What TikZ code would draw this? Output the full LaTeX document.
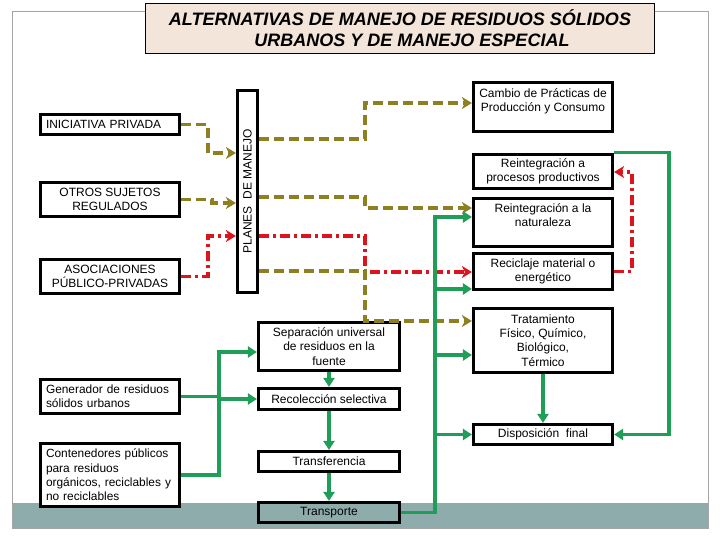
\documentclass[tikz,border=0pt]{standalone}
\usepackage{fontspec}
\setmainfont{Liberation Sans}
\usetikzlibrary{arrows.meta,calc}
\definecolor{oliv}{RGB}{140,128,32}
\definecolor{redl}{RGB}{220,20,30}
\definecolor{grn}{RGB}{30,158,87}
\definecolor{bandc}{RGB}{143,172,172}
\definecolor{titfill}{RGB}{243,229,217}
\definecolor{framec}{RGB}{165,165,165}
\begin{document}
\begin{tikzpicture}[x=1pt,y=-1pt,
 box/.style={draw=black, line width=3.2pt, fill=white, inner sep=0pt, align=center,
   font=\fontsize{12}{14.3}\selectfont, text=black},
 lbox/.style={box, align=left, text width=128pt, font=\fontsize{11.9}{14.3}\selectfont},
 oli/.style={draw=oliv, line width=3.2pt, dash pattern=on 10pt off 5pt,
   -{Stealth[length=10pt,width=12pt,inset=3pt]}},
 redd/.style={draw=redl, line width=3.2pt, dash pattern=on 10pt off 4pt on 3pt off 4pt,
   -{Stealth[length=10pt,width=12pt,inset=3pt]}},
 gr/.style={draw=grn, line width=3.2pt},
 gra/.style={gr, -{Triangle[length=9pt,width=11pt]}}
]
\useasboundingbox (0,0) rectangle (720,540);
% frame and band
\fill[bandc] (12,503) rectangle (708,528);
\draw[framec, line width=1pt] (12,12) rectangle (708,528);
% title
\node[draw=black, line width=0.8pt, fill=titfill, minimum width=509pt, minimum height=50pt,
  inner sep=0pt, align=center, font=\fontsize{18}{21}\selectfont\bfseries\itshape] (title)
  at (400,28.5) {ALTERNATIVAS DE MANEJO DE RESIDUOS SÓLIDOS\\\hspace*{24pt}URBANOS Y DE MANEJO ESPECIAL};
% left column
\node[lbox, minimum width=139pt, minimum height=20pt] (ini) at (110,124.5) {INICIATIVA PRIVADA};
\node[box, minimum width=139pt, minimum height=34pt] (otros) at (110,199.5) {OTROS SUJETOS\\REGULADOS};
\node[box, minimum width=139pt, minimum height=34pt] (asoc) at (110,276.5) {ASOCIACIONES\\PÚBLICO-PRIVADAS};
\node[lbox, minimum width=139pt, minimum height=34pt] (gen) at (110,396.5) {Generador de residuos\\sólidos urbanos};
\node[lbox, minimum width=139pt, minimum height=63pt] (cont) at (110,475) {Contenedores públicos\\para residuos\\orgánicos, reciclables y\\no reciclables};
% planes
\node[box, minimum width=20pt, minimum height=202pt] (planes) at (247.5,191.5) {\rotatebox{90}{PLANES\ \ DE MANEJO}};
% middle column
\node[box, minimum width=141pt, minimum height=48pt] (sep) at (329,346.5) {Separación universal\\de residuos en la\\fuente};
\node[box, minimum width=141pt, minimum height=21pt] (recol) at (329,399) {Recolección selectiva};
\node[box, minimum width=141pt, minimum height=20pt] (transf) at (329,461.5) {Transferencia};
\node[box, fill=bandc, minimum width=141pt, minimum height=20pt] (transp) at (329,512.5) {Transporte};
% right column
\node[box, minimum width=139pt, minimum height=49pt] (cambio) at (543,107) {Cambio de Prácticas de\\Producción y Consumo\\\mbox{}};
\node[box, minimum width=139pt, minimum height=34pt] (reproc) at (543,171.5) {Reintegración a\\procesos productivos};
\node[box, minimum width=139pt, minimum height=48pt] (nat) at (543,222.5) {Reintegración a la\\naturaleza\\\mbox{}};
\node[box, minimum width=139pt, minimum height=36pt] (recic) at (543,271.5) {Reciclaje material o\\energético};
\node[box, minimum width=139pt, minimum height=64pt] (trat) at (543,340.5) {Tratamiento\\Físico, Químico,\\Biológico,\\Térmico};
\node[box, minimum width=139pt, minimum height=20pt] (disp) at (543,434.5) {Disposición\ \ final};
% olive / red into planes
\coordinate (b1) at (208,153);
\draw[oli] (ini.east) -| (b1) -- (b1 -| planes.west);
\coordinate (b2) at (212,203);
\draw[oli] (otros.east) -| (b2) -- (b2 -| planes.west);
\coordinate (b3) at (208,236);
\draw[redd] (asoc.east) -| (b3) -- (b3 -| planes.west);
% from planes
\coordinate (k1) at (365,103);
\draw[oli] (planes.east |- 0,139) -| (k1) -- (k1 -| cambio.west);
\coordinate (k2) at (365,208);
\draw[oli] (planes.east |- 0,197) -| (k2) -- (k2 -| nat.west);
\coordinate (k3) at (365,272);
\draw[redd] (planes.east |- 0,236) -| (k3) -- (k3 -| recic.west);
\coordinate (k4) at (365,321);
\draw[oli] (planes.east |- 0,271) -| (k4) -- (k4 -| trat.west);
% red loop
\coordinate (r1) at (632,172);
\draw[redd] (recic.east) -| (r1) -- (r1 -| reproc.east);
% green
\coordinate (q1) at (669,434.5);
\draw[gra] (reproc.north east) -| (q1) -- (disp.east);
\coordinate (t1) at (435,217);
\draw[gra] (transp.east) -| (t1) -- (t1 -| nat.west);
\coordinate (t2) at (435,289);
\draw[gra] (t2) -- (t2 -| recic.west);
\coordinate (t3) at (435,355);
\draw[gra] (t3) -- (t3 -| trat.west);
\coordinate (t4) at (435,434.5);
\draw[gra] (t4) -- (t4 -| disp.west);
\coordinate (u1) at (219,352);
\draw[gra] (cont.east) -| (u1) -- (u1 -| sep.west);
\coordinate (u2) at (219,399);
\draw[gr] (gen.east) -- (gen.east -| u2);
\draw[gra] (u2) -- (recol.west);
\draw[gra] (sep.south) -- (recol.north);
\draw[gra] (recol.south) -- (transf.north);
\draw[gra] (transf.south) -- (transp.north);
\draw[gra] (trat.south) -- (disp.north);
\end{tikzpicture}
\end{document}
